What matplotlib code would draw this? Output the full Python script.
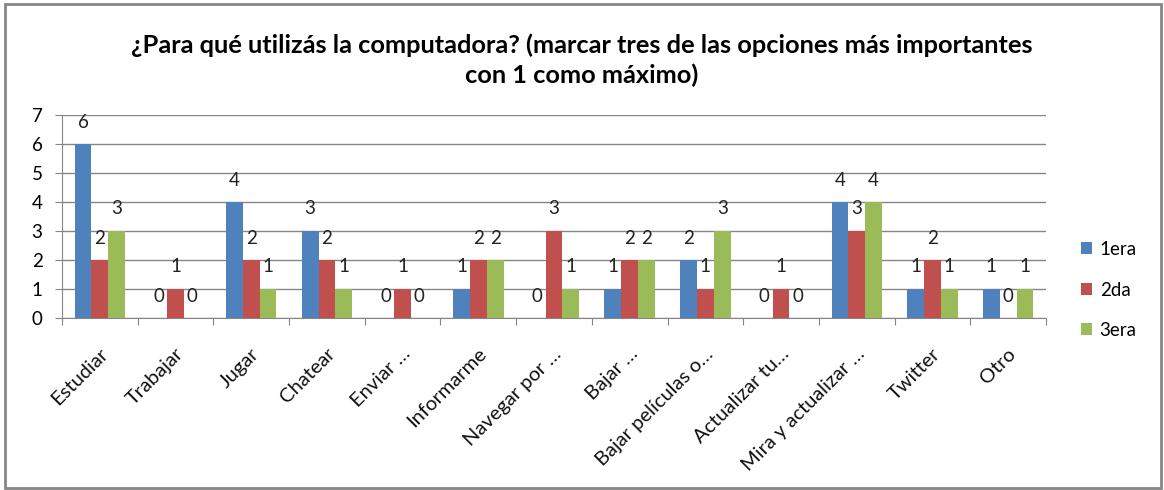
import numpy as np
import matplotlib.pyplot as plt
from matplotlib.patches import Rectangle
from matplotlib.transforms import ScaledTranslation, blended_transform_factory

# Survey answers: count of first / second / third choices per activity
categorias = [
    "Estudiar", "Trabajar", "Jugar", "Chatear", "Enviar …", "Informarme",
    "Navegar por …", "Bajar …", "Bajar películas o…", "Actualizar tu…",
    "Mira y actualizar …", "Twitter", "Otro",
]
primera = [6, 0, 4, 3, 0, 1, 0, 1, 2, 0, 4, 1, 1]
segunda = [2, 1, 2, 2, 1, 2, 3, 2, 1, 1, 3, 2, 0]
tercera = [3, 0, 1, 1, 0, 2, 1, 2, 3, 0, 4, 1, 1]
series = ["1era", "2da", "3era"]
y_ticks = [0, 1, 2, 3, 4, 5, 6, 7]

colores = ["#4F81BD", "#C0504D", "#9BBB59"]
gris = "#868686"

plt.rcParams["font.family"] = ["Lato", "DejaVu Sans"]

W, H = 1164, 490
fig = plt.figure(figsize=(W / 100, H / 100), dpi=100)
ax = fig.add_axes([62 / W, 1 - 318 / H, (1046 - 62) / W, (318 - 115) / H])

x = np.arange(len(categorias))
ancho = 1 / 4.5
barras = []
for i, (vals, nombre) in enumerate(zip([primera, segunda, tercera], series)):
    pos = x + (i - 1) * ancho
    b = ax.bar(pos, vals, width=ancho, color=colores[i], label=nombre, zorder=3)
    barras.append(b)
    for px, v in zip(pos, vals):
        ax.annotate(str(v), (px, v), xytext=(0, 22), textcoords="offset pixels",
                    ha="center", va="center", fontsize=13.5, color="#222222")

ax.set_xlim(-0.5, len(categorias) - 0.5)
ax.set_ylim(0, 7)
ax.set_yticks(y_ticks)
ax.grid(axis="y", color=gris, lw=1, zorder=0)
ax.set_axisbelow(True)

# category boundaries get the tick marks, names are drawn diagonally below
ax.set_xticks(np.arange(len(categorias) + 1) - 0.5)
ax.set_xticklabels([])
ax.tick_params(axis="x", length=5, color=gris, direction="out")
ax.tick_params(axis="y", length=5, color=gris, pad=9, labelsize=13.5)

trans_cat = blended_transform_factory(ax.transData, ax.transAxes) + \
    ScaledTranslation(-1 / 100, -27 / 100, fig.dpi_scale_trans)
for xi, nombre in zip(x, categorias):
    ax.text(xi, 0, nombre, transform=trans_cat, rotation=45, ha="right", va="top",
            rotation_mode="anchor", fontsize=14.5, color="#111111")

for s in ["top", "right"]:
    ax.spines[s].set_visible(False)
for s in ["left", "bottom"]:
    ax.spines[s].set_color(gris)

fig.text(582 / W, 1 - 45 / H,
         "¿Para qué utilizás la computadora? (marcar tres de las opciones más importantes",
         ha="center", va="center", fontsize=18.3, fontweight="bold")
fig.text(582 / W, 1 - 75 / H, "con 1 como máximo)",
         ha="center", va="center", fontsize=18.3, fontweight="bold")

fig.legend(handles=barras, loc="center left", bbox_to_anchor=(1064 / W, 1 - 290 / H),
           frameon=False, fontsize=13.5, handlelength=0.6, handleheight=0.6,
           handletextpad=0.4, labelspacing=1.25)

# outer frame around the chart
fig.patches.append(Rectangle((5 / W, 2 / H), 1156 / W, 484 / H, transform=fig.transFigure,
                             fill=False, edgecolor=gris, lw=2))

fig.savefig("out.png", dpi=100)
